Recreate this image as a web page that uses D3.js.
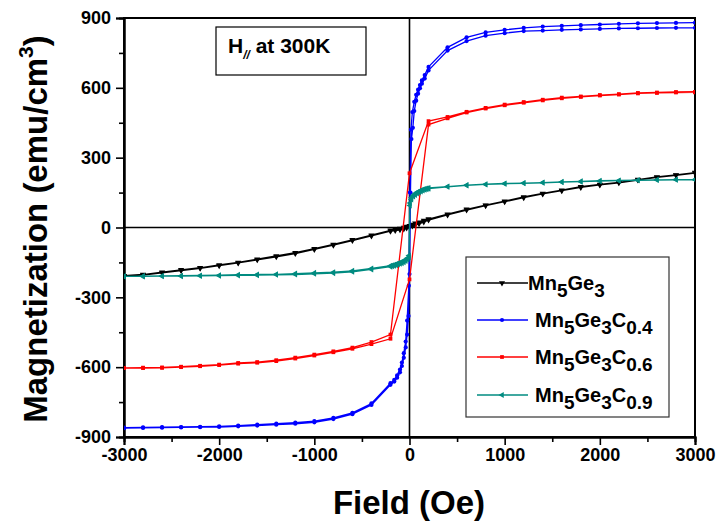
<!DOCTYPE html>
<html><head><meta charset="utf-8">
<script src="https://cdn.jsdelivr.net/npm/d3@7"></script>
<style>body{margin:0;background:#fff}svg{display:block}text{font-family:"Liberation Sans",Arial,sans-serif;font-weight:bold}</style>
</head><body><svg id="c" width="718" height="523"></svg>
<script>
// ---------- data ----------
const xTicks = [-3000,-2000,-1000,0,1000,2000,3000];
const yTicks = [-900,-600,-300,0,300,600,900];

const blackDownH = [3000,2800,2600,2400,2200,2000,1800,1600,1400,1200,1000,800,600,400,200,150,100,60,30,0,-30,-60,-100,-150,-200,-400,-600,-800,-1000,-1200,-1400,-1600,-1800,-2000,-2200,-2400,-2600,-2800,-3000];
const blackDownM = [236,226,217,206,194,185,175,160,146,131,113,96,78,57,36,30,23,18,13,8,4,0,-4,-8,-12,-33,-53,-73,-91,-108,-122,-136,-150,-161,-173,-182,-192,-202,-207];
const blackUpH = [-3000,-2800,-2600,-2400,-2200,-2000,-1800,-1600,-1400,-1200,-1000,-800,-600,-400,-200,-150,-100,-60,-30,0,30,60,100,150,200,400,600,800,1000,1200,1400,1600,1800,2000,2200,2400,2600,2800,3000];
const blackUpM = [-208,-204,-195,-185,-175,-164,-152,-139,-126,-112,-94,-76,-56,-36,-16,-13,-10,-6,-2,2,6,11,16,24,32,54,75,94,111,128,144,158,172,183,192,204,215,224,234];

const blueDownH = [3000,2800,2600,2400,2200,2000,1800,1600,1400,1200,1000,800,600,400,200,160,130,110,90,70,50,30,15,5,-7,-25,-40,-60,-80,-100,-130,-160,-200,-400,-600,-800,-1000,-1200,-1400,-1600,-1800,-2000,-2200,-2400,-2600,-2800,-3000];
const blueDownM = [880,879,878,877,875,872,869,866,863,858,849,838,817,774,690,655,632,612,592,570,540,496,420,150,-250,-400,-490,-540,-580,-610,-635,-655,-669,-756,-796,-818,-832,-838,-843,-847,-851,-854,-856,-857,-858,-859,-860];
const blueUpH = [-3000,-2800,-2600,-2400,-2200,-2000,-1800,-1600,-1400,-1200,-1000,-800,-600,-400,-200,-160,-130,-100,-80,-60,-40,-25,-10,0,10,20,35,50,70,90,110,130,160,200,400,600,800,1000,1200,1400,1600,1800,2000,2200,2400,2600,2800,3000];
const blueUpM = [-862,-861,-860,-859,-858,-857,-854,-851,-847,-843,-837,-823,-802,-762,-676,-662,-645,-622,-595,-560,-515,-460,-380,-200,150,380,428,500,545,575,598,618,640,675,760,801,824,835,844,846,849,851,853,855,856,857,858,858];

const redDownH = [3000,2800,2600,2400,2200,2000,1800,1600,1400,1200,1000,800,600,400,200,0,-200,-400,-600,-800,-1000,-1200,-1400,-1600,-1800,-2000,-2200,-2400,-2600,-2800,-3000];
const redDownM = [583,582,580,578,573,569,563,558,549,539,528,514,497,475,457,233,-460,-492,-516,-532,-546,-559,-570,-578,-582,-589,-594,-598,-601,-602,-603];
const redUpH = [-3000,-2800,-2600,-2400,-2200,-2000,-1800,-1600,-1400,-1200,-1000,-800,-600,-400,-200,0,200,400,600,800,1000,1200,1400,1600,1800,2000,2200,2400,2600,2800,3000];
const redUpM = [-604,-604,-603,-600,-596,-591,-585,-581,-574,-563,-550,-536,-521,-501,-478,-223,442,469,494,511,525,536,546,555,561,567,571,576,578,580,581];

const tealDownH = [3000,2800,2600,2400,2200,2000,1800,1600,1400,1200,1000,800,600,400,200,180,160,140,120,100,80,60,40,20,5,-5,-20,-40,-60,-80,-100,-120,-140,-160,-180,-200,-400,-600,-800,-1000,-1200,-1400,-1600,-1800,-2000,-2200,-2400,-2600,-2800,-3000];
const tealDownM = [206,206,205,203,202,201,198,196,193,191,189,186,182,176,170,168,166,163,160,156,151,146,139,128,105,-120,-131,-138,-143,-147,-151,-154,-157,-160,-162,-164,-176,-186,-192,-195,-198,-201,-202,-203,-205,-206,-207,-208,-209,-210];
const tealUpH = [-3000,-2800,-2600,-2400,-2200,-2000,-1800,-1600,-1400,-1200,-1000,-800,-600,-400,-200,-180,-160,-140,-120,-100,-80,-60,-40,-20,-5,5,20,40,60,80,100,120,140,160,180,200,400,600,800,1000,1200,1400,1600,1800,2000,2200,2400,2600,2800,3000];
const tealUpM = [-210,-210,-209,-209,-208,-207,-206,-205,-203,-202,-199,-196,-190,-180,-168,-166,-164,-162,-159,-156,-153,-149,-144,-137,-128,95,120,133,140,146,151,155,159,162,165,167,175,181,185,188,190,192,195,197,199,201,203,204,205,205];

const seriesNames = [["Mn","5","Ge","3"],["Mn","5","Ge","3","C","0.4"],["Mn","5","Ge","3","C","0.6"],["Mn","5","Ge","3","C","0.9"]];
const seriesColors = ["#000000","#0000ff","#ff0000","#008b80"];

// ---------- layout ----------
const L=124,R=695,T=18,B=437;
const svg=d3.select("#c");
const x=d3.scaleLinear().domain([-3000,3000]).range([L,R]);
const y=d3.scaleLinear().domain([-900,900]).range([B,T]);

svg.append("defs").append("clipPath").attr("id","clip").append("rect")
  .attr("x",L).attr("y",T).attr("width",R-L).attr("height",B-T);

// frame
svg.append("rect").attr("x",L).attr("y",T).attr("width",R-L).attr("height",B-T)
  .attr("fill","none").attr("stroke","#000").attr("stroke-width",2);

// zero lines
svg.append("line").attr("x1",x(0)).attr("x2",x(0)).attr("y1",T).attr("y2",B).attr("stroke","#000").attr("stroke-width",1.6);
svg.append("line").attr("x1",L).attr("x2",R).attr("y1",y(0)).attr("y2",y(0)).attr("stroke","#000").attr("stroke-width",1.6);

// axes
const fmt=d=>String(d);
const xAxis=svg.append("g").attr("transform",`translate(0,${B})`)
  .call(d3.axisBottom(x).tickValues(xTicks).tickFormat(fmt).tickSize(8).tickPadding(3));
const xMinor=svg.append("g").attr("transform",`translate(0,${B})`)
  .call(d3.axisBottom(x).tickValues(d3.range(-2500,3000,1000)).tickFormat("").tickSize(5));
const yAxis=svg.append("g").attr("transform",`translate(${L},0)`)
  .call(d3.axisLeft(y).tickValues(yTicks).tickFormat(fmt).tickSize(8).tickPadding(5));
const yMinor=svg.append("g").attr("transform",`translate(${L},0)`)
  .call(d3.axisLeft(y).tickValues(d3.range(-750,900,300)).tickFormat("").tickSize(5));
[xAxis,xMinor,yAxis,yMinor].forEach(g=>{
  g.select(".domain").attr("stroke","#000").attr("stroke-width",2);
  g.selectAll(".tick line").attr("stroke","#000").attr("stroke-width",1.6);
  g.selectAll("text").attr("fill","#000").style("font-size","18px").style("font-weight","bold")
   .style("font-family","'Liberation Sans',Arial,sans-serif");
});

// axis titles
svg.append("text").attr("x",409).attr("y",514).attr("text-anchor","middle")
  .style("font-size","33px").text("Field (Oe)");
const yt=svg.append("text").attr("transform","translate(47,229) rotate(-90)").attr("text-anchor","middle")
  .style("font-size","33px");
yt.append("tspan").text("Magnetization (emu/cm");
yt.append("tspan").attr("dy",-14).style("font-size","21px").text("3");
yt.append("tspan").attr("dy",14).text(")");

// data
const plot=svg.append("g").attr("clip-path","url(#clip)");
const line=d3.line().x(d=>x(d[0])).y(d=>y(d[1]));
const sets=[
  [blackDownH,blackDownM,blackUpH,blackUpM],
  [blueDownH,blueDownM,blueUpH,blueUpM],
  [redDownH,redDownM,redUpH,redUpM],
  [tealDownH,tealDownM,tealUpH,tealUpM]
];
const symbols=[
  {t:d3.symbolTriangle,rot:180,s:16},
  {t:d3.symbolCircle,rot:0,s:14},
  {t:d3.symbolSquare,rot:0,s:14},
  {t:d3.symbolTriangle,rot:-90,s:16}
];
sets.forEach((s,i)=>{
  const pts=s[0].map((h,k)=>[h,s[1][k]]).concat(s[2].map((h,k)=>[h,s[3][k]]));
  const g=plot.append("g");
  g.append("path").attr("d",line(pts)).attr("fill","none").attr("stroke",seriesColors[i]).attr("stroke-width",1.3);
  const sym=d3.symbol().type(symbols[i].t).size(symbols[i].s);
  g.selectAll("path.m").data(pts).join("path").attr("class","m").attr("d",sym)
   .attr("transform",d=>`translate(${x(d[0])},${y(d[1])}) rotate(${symbols[i].rot})`)
   .attr("fill",seriesColors[i]);
});

// annotation box
svg.append("rect").attr("x",216).attr("y",27).attr("width",150).attr("height",48)
  .attr("fill","#fff").attr("stroke","#000").attr("stroke-width",1.2);
const an=svg.append("text").attr("x",228).attr("y",53).style("font-size","21px");
an.append("tspan").text("H");
an.append("tspan").attr("dy",6).style("font-size","12px").style("font-style","italic").text("//");
an.append("tspan").attr("dy",-6).text(" at 300K");

// legend
const lg=svg.append("g");
lg.append("rect").attr("x",466).attr("y",257).attr("width",203).attr("height",160)
  .attr("fill","#fff").attr("stroke","#333").attr("stroke-width",1.2);
const rowY=[283,320,357,395];
seriesNames.forEach((parts,i)=>{
  const yy=rowY[i];
  lg.append("line").attr("x1",477).attr("x2",528).attr("y1",yy).attr("y2",yy)
    .attr("stroke",seriesColors[i]).attr("stroke-width",1.3);
  const sym=d3.symbol().type(symbols[i].t).size(symbols[i].s);
  lg.append("path").attr("d",sym).attr("transform",`translate(502,${yy}) rotate(${symbols[i].rot})`).attr("fill",seriesColors[i]);
  const t=lg.append("text").attr("x",i===0?528:535).attr("y",yy+7).style("font-size","20px");
  parts.forEach((p,k)=>{
    const sub=k%2===1;
    t.append("tspan").attr("dy",k===0?0:(sub?7:-7)).style("font-size",sub?"19px":"20px").text(p);
  });
});
</script></body></html>
